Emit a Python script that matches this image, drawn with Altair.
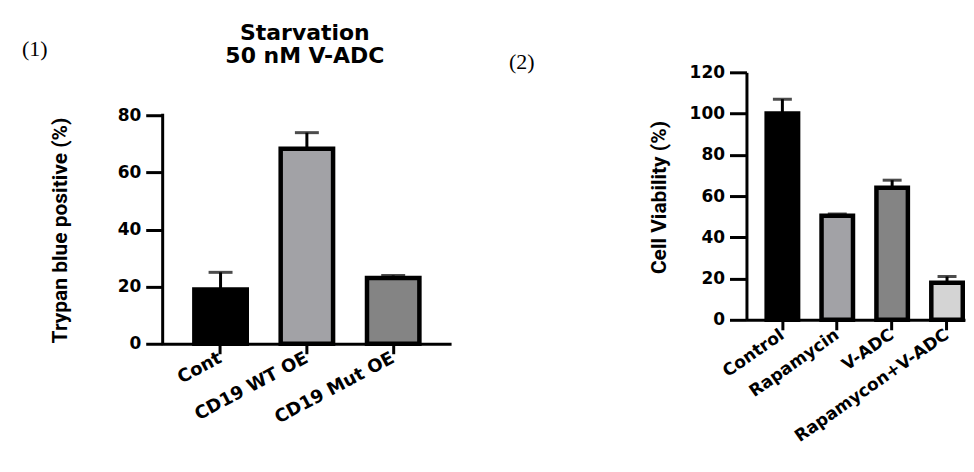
import altair as alt
import pandas as pd

# ---- data ----
cats1 = ["Cont", "CD19 WT OE", "CD19 Mut OE"]
vals1 = [19.0, 68.3, 23.0]
errs1 = [6.0, 5.6, 0.9]
fills1 = ["#000000", "#a2a2a6", "#848484"]

cats2 = ["Control", "Rapamycin", "V-ADC", "Rapamycon+V-ADC"]
vals2 = [100.0, 50.5, 64.0, 18.0]
errs2 = [7.0, 0.8, 3.7, 3.0]
fills2 = ["#000000", "#a2a2a6", "#848484", "#d4d4d4"]

ticks1 = [0, 20, 40, 60, 80]
ticks2 = [0, 20, 40, 60, 80, 100, 120]

title1 = ["Starvation", "50 nM V-ADC"]
panel_tags = ["(1)", "(2)"]
ytitle1 = "Trypan blue positive (%)"
ytitle2 = "Cell Viability (%)"

df1 = pd.DataFrame({"cat": cats1, "val": vals1, "err": errs1})
df1["hi"] = df1["val"] + df1["err"]
df2 = pd.DataFrame({"cat": cats2, "val": vals2, "err": errs2})
df2["hi"] = df2["val"] + df2["err"]

W1, H1 = 289, 272
W2, H2 = 219, 248
LBL = "DejaVu Sans"
NARROW = "Roboto"


def panel(df, cats, fills, ydomain, yticks, ytitle, titleX, titleY,
          pi, po, align, capsize, angle, xfs, ydomainline):
    xenc = alt.X("cat:N", sort=cats,
                 scale=alt.Scale(paddingInner=pi, paddingOuter=po, align=align),
                 axis=alt.Axis(title=None, labelAngle=angle, tickSize=10, tickWidth=3,
                               tickColor="black", domainWidth=3, domainColor="black",
                               labelFont=LBL, labelFontWeight="bold", labelFontSize=xfs,
                               labelColor="black", labelPadding=3, labelLimit=400))
    yenc = alt.Y("val:Q",
                 scale=alt.Scale(domain=ydomain, nice=False, zero=True),
                 axis=alt.Axis(values=yticks, domain=ydomainline, domainWidth=3,
                               domainColor="black", tickSize=17, tickWidth=3,
                               tickColor="black", grid=False,
                               labelFont=LBL, labelFontWeight="bold", labelFontSize=17,
                               labelColor="black", labelPadding=5,
                               title=ytitle, titleFont=NARROW, titleFontSize=21,
                               titleFontWeight="bold", titleColor="black",
                               titleX=titleX, titleY=titleY))
    base = alt.Chart(df)
    stem = base.mark_rule(color="black", strokeWidth=3).encode(
        x=alt.X("cat:N", sort=cats), y="val:Q", y2="hi:Q")
    cap = base.mark_tick(color="black", size=capsize, thickness=3).encode(
        x=alt.X("cat:N", sort=cats), y="hi:Q")
    bars = base.mark_bar(stroke="black", strokeWidth=4.5).encode(
        x=xenc, y=yenc,
        color=alt.Color("cat:N", sort=cats,
                        scale=alt.Scale(domain=cats, range=fills), legend=None))
    return stem, cap, bars


stem1, cap1, bars1 = panel(df1, cats1, fills1, [0, 80 * 272 / 229], ticks1,
                           ytitle1, -92, 158, 0.393, 0.367, 0.5, 24, -28, 18, False)
yline1 = alt.Chart(pd.DataFrame({"a": [0], "b": [80]})).mark_rule(
    color="black", strokeWidth=3, strokeCap="square").encode(
    x=alt.value(0), y=alt.Y("a:Q"), y2="b:Q")
t1a = alt.Chart(pd.DataFrame({"t": [title1[0]]})).mark_text(
    font=LBL, fontWeight="bold", fontSize=22, align="center", baseline="alphabetic",
    color="black").encode(text="t:N", x=alt.value(W1 / 2 - 2), y=alt.value(-32))
t1b = alt.Chart(pd.DataFrame({"t": [title1[1]]})).mark_text(
    font=LBL, fontWeight="bold", fontSize=22, align="center", baseline="alphabetic",
    color="black").encode(text="t:N", x=alt.value(W1 / 2 - 2), y=alt.value(-9))
tag1 = alt.Chart(pd.DataFrame({"t": [panel_tags[0]]})).mark_text(
    font="Liberation Serif", fontSize=22, align="left", baseline="middle",
    color="black").encode(text="t:N", x=alt.value(-141), y=alt.value(-23))

chart1 = alt.layer(stem1, bars1, cap1, yline1, t1a, t1b, tag1).properties(
    width=W1, height=H1)

stem2, cap2, bars2 = panel(df2, cats2, fills2, [0, 120], ticks2,
                           ytitle2, -77, 125, 0.427, 0.2045, 0.9, 19, -35, 17, True)
tag2 = alt.Chart(pd.DataFrame({"t": [panel_tags[1]]})).mark_text(
    font="Liberation Serif", fontSize=22, align="left", baseline="middle",
    color="black").encode(text="t:N", x=alt.value(-238), y=alt.value(-10))

chart2 = alt.layer(stem2, bars2, cap2, tag2).properties(width=W2, height=H2)

chart = alt.hconcat(chart1, chart2, spacing=296, bounds="flush").resolve_scale(
    color="independent").properties(
    padding={"left": 14, "top": 14, "right": 0, "bottom": 0},
    background="white",
).configure_view(strokeWidth=0, stroke="transparent")

chart.save("out.html", embed_options={"renderer": "svg", "actions": False})
